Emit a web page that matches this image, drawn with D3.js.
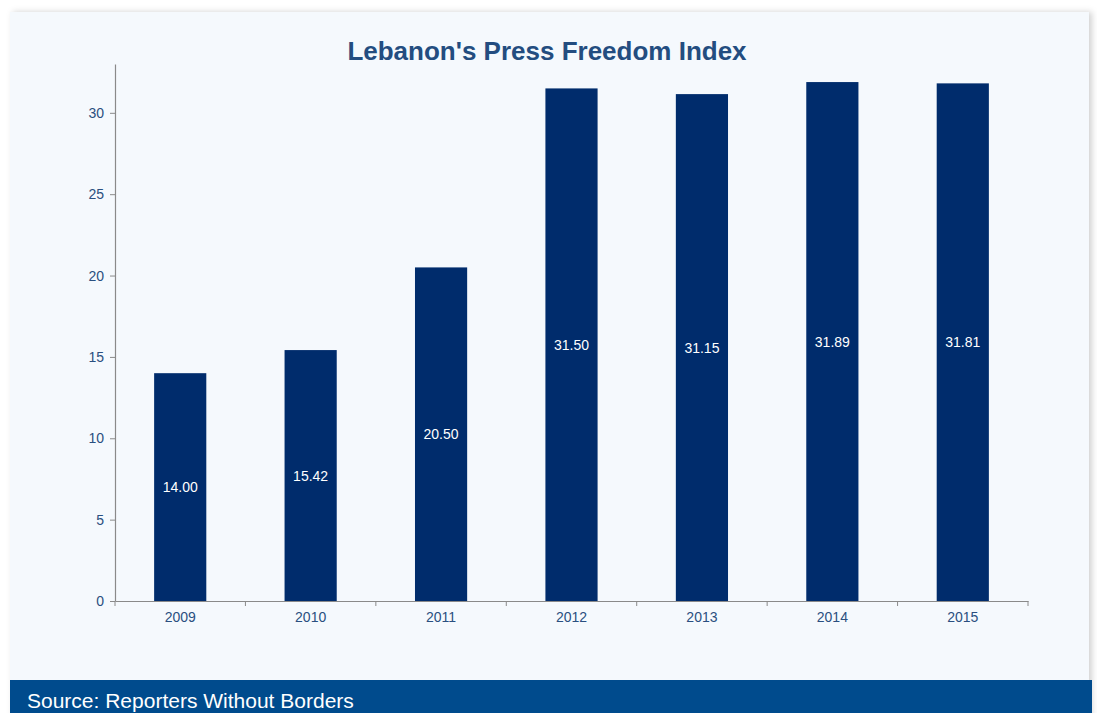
<!DOCTYPE html>
<html>
<head>
<meta charset="utf-8">
<script src="https://cdn.jsdelivr.net/npm/d3@7"></script>
<style>
  html, body { margin: 0; padding: 0; background: #ffffff; }
  svg { display: block; font-family: "Liberation Sans", Arial, Helvetica, sans-serif; }
</style>
</head>
<body>
<svg id="chart" width="1097" height="713"></svg>
<script>
// Lebanon's Press Freedom Index score, by year
const years = ["2009", "2010", "2011", "2012", "2013", "2014", "2015"];
const scores = [14.00, 15.42, 20.50, 31.50, 31.15, 31.89, 31.81];
const yTicks = [0, 5, 10, 15, 20, 25, 30];
const chartTitle = "Lebanon's Press Freedom Index";
const sourceNote = "Source: Reporters Without Borders";

const svg = d3.select("#chart");

// soft shadow behind the panel
const defs = svg.append("defs");
const f = defs.append("filter").attr("id", "shadow")
  .attr("x", "-5%").attr("y", "-5%").attr("width", "110%").attr("height", "110%");
f.append("feDropShadow").attr("dx", 3).attr("dy", 0).attr("stdDeviation", 3)
  .attr("flood-color", "#000").attr("flood-opacity", 0.18);

svg.append("rect")
  .attr("x", 10).attr("y", 12).attr("width", 1079).attr("height", 720)
  .attr("fill", "#f5f9fd").attr("filter", "url(#shadow)");

const margin = { left: 115, right: 1028, top: 64, bottom: 601 };

const x = d3.scaleBand().domain(years)
  .range([margin.left, margin.right]).paddingInner(0.6).paddingOuter(0.3);
const y = d3.scaleLinear().domain([0, 33]).range([margin.bottom, margin.top]);

// title
svg.append("text")
  .attr("x", 547).attr("y", 60)
  .attr("text-anchor", "middle")
  .attr("font-size", 26).attr("font-weight", "bold")
  .attr("fill", "#234d80")
  .text(chartTitle);

// bars
svg.append("g").selectAll("rect").data(scores).join("rect")
  .attr("x", (d, i) => x(years[i]))
  .attr("y", d => y(d))
  .attr("width", x.bandwidth())
  .attr("height", d => y(0) - y(d))
  .attr("fill", "#002c6c");

// value labels centred inside each bar
svg.append("g").selectAll("text").data(scores).join("text")
  .attr("x", (d, i) => x(years[i]) + x.bandwidth() / 2)
  .attr("y", d => (y(d) + y(0)) / 2 + 5)
  .attr("text-anchor", "middle")
  .attr("font-size", 14)
  .attr("fill", "#ffffff")
  .text(d => d.toFixed(2));

// y axis
const yAxis = svg.append("g")
  .attr("transform", `translate(${margin.left},0)`)
  .call(d3.axisLeft(y).tickValues(yTicks).tickSize(5).tickSizeOuter(0));
yAxis.select(".domain").attr("stroke", "#8a8a8a").attr("stroke-width", 1.2);
yAxis.selectAll(".tick line").attr("stroke", "#8a8a8a");
yAxis.selectAll(".tick text")
  .attr("font-size", 14).attr("fill", "#2a4f80")
  .attr("font-family", "Liberation Sans, Arial, sans-serif")
  .attr("x", -11);

// x axis, ticks on the category boundaries
const xAxis = svg.append("g")
  .attr("transform", `translate(0,${margin.bottom})`)
  .call(d3.axisBottom(x).tickSize(0).tickSizeOuter(0));
xAxis.select(".domain").attr("stroke", "#8a8a8a").attr("stroke-width", 1.2);
xAxis.selectAll(".tick text")
  .attr("font-size", 14).attr("fill", "#2a4f80")
  .attr("font-family", "Liberation Sans, Arial, sans-serif")
  .attr("y", 11);

const boundaries = d3.range(years.length + 1).map(i => margin.left + i * (margin.right - margin.left) / years.length);
svg.append("g").selectAll("line").data(boundaries).join("line")
  .attr("x1", d => d).attr("x2", d => d)
  .attr("y1", margin.bottom).attr("y2", margin.bottom + 5)
  .attr("stroke", "#8a8a8a");

// source band
svg.append("rect")
  .attr("x", 10).attr("y", 680).attr("width", 1082).attr("height", 40)
  .attr("fill", "#004b8d");
svg.append("text")
  .attr("x", 27).attr("y", 708)
  .attr("font-size", 21)
  .attr("fill", "#ffffff")
  .text(sourceNote);
</script>
</body>
</html>
